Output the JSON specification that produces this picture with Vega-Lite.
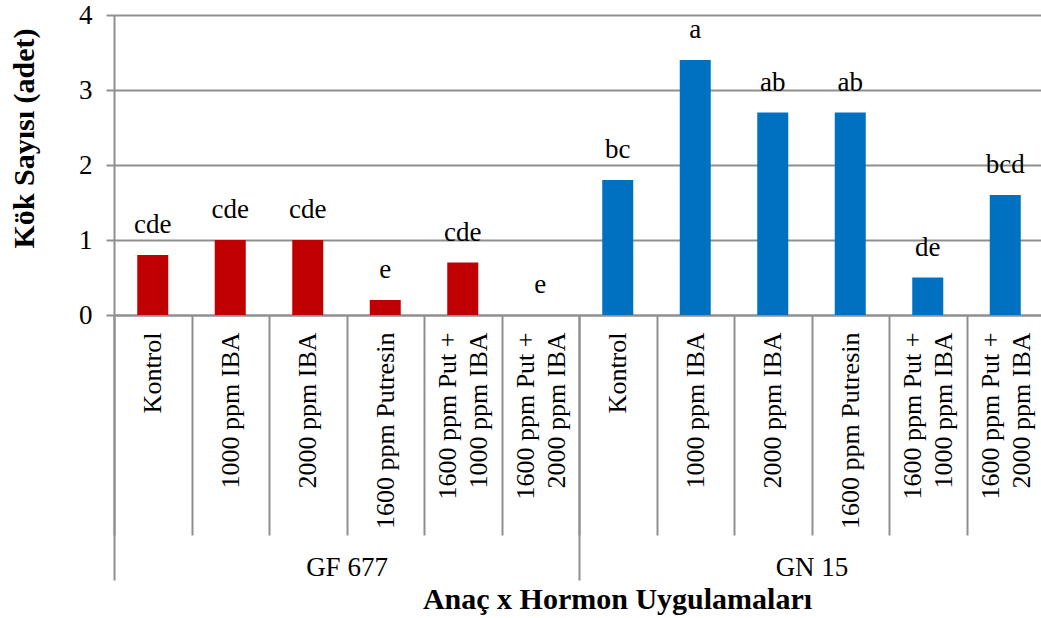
{
  "$schema": "https://vega.github.io/schema/vega-lite/v6.json",
  "autosize": "none",
  "padding": {"left": 114, "top": 15, "right": 0, "bottom": 303},
  "width": 930,
  "height": 300,
  "config": {"view": {"stroke": null}, "font": "Liberation Serif"},
  "resolve": {"scale": {"x": "independent"}, "axis": {"x": "independent"}},
  "layer": [
    {
      "data": {"values": [
        {"anac": "GF 677", "hormon": "Kontrol", "key": "GF 677|Kontrol", "value": 0.8, "harf": "cde"},
        {"anac": "GF 677", "hormon": "1000 ppm IBA", "key": "GF 677|1000 ppm IBA", "value": 1.0, "harf": "cde"},
        {"anac": "GF 677", "hormon": "2000 ppm IBA", "key": "GF 677|2000 ppm IBA", "value": 1.0, "harf": "cde"},
        {"anac": "GF 677", "hormon": "1600 ppm Putresin", "key": "GF 677|1600 ppm Putresin", "value": 0.2, "harf": "e"},
        {"anac": "GF 677", "hormon": "1600 ppm Put + 1000 ppm IBA", "key": "GF 677|1600 ppm Put + 1000 ppm IBA", "value": 0.7, "harf": "cde"},
        {"anac": "GF 677", "hormon": "1600 ppm Put + 2000 ppm IBA", "key": "GF 677|1600 ppm Put + 2000 ppm IBA", "value": 0.0, "harf": "e"},
        {"anac": "GN 15", "hormon": "Kontrol", "key": "GN 15|Kontrol", "value": 1.8, "harf": "bc"},
        {"anac": "GN 15", "hormon": "1000 ppm IBA", "key": "GN 15|1000 ppm IBA", "value": 3.4, "harf": "a"},
        {"anac": "GN 15", "hormon": "2000 ppm IBA", "key": "GN 15|2000 ppm IBA", "value": 2.7, "harf": "ab"},
        {"anac": "GN 15", "hormon": "1600 ppm Putresin", "key": "GN 15|1600 ppm Putresin", "value": 2.7, "harf": "ab"},
        {"anac": "GN 15", "hormon": "1600 ppm Put + 1000 ppm IBA", "key": "GN 15|1600 ppm Put + 1000 ppm IBA", "value": 0.5, "harf": "de"},
        {"anac": "GN 15", "hormon": "1600 ppm Put + 2000 ppm IBA", "key": "GN 15|1600 ppm Put + 2000 ppm IBA", "value": 1.6, "harf": "bcd"}
      ]},
      "encoding": {
        "x": {
          "field": "key", "type": "nominal", "sort": null,
          "scale": {"paddingInner": 0, "paddingOuter": 0},
          "axis": {
            "title": null, "orient": "bottom", "grid": false,
            "tickBand": "extent", "tickSize": 220, "tickColor": "#8f8f8f", "tickWidth": 2,
            "domainColor": "#8f8f8f", "domainWidth": 2,
            "labelAngle": -90, "labelAlign": "right", "labelBaseline": "middle",
            "labelPadding": -203, "labelFont": "Liberation Serif", "labelFontSize": 26,
            "labelLineHeight": 31, "labelColor": "#000000", "labelLimit": 0, "labelOverlap": false,
            "labelOffset": {"condition": {"test": "isValid(datum.value) && indexof(datum.value, '+') >= 0", "value": -15}, "value": 0},
            "labelExpr": "isValid(datum.value) ? split(replace(split(datum.value, '|')[1], '+ ', '+|'), '|') : ''"
          }
        },
        "y": {
          "field": "value", "type": "quantitative",
          "scale": {"domain": [0, 4], "nice": false},
          "axis": {
            "title": "Kök Sayısı (adet)", "values": [0, 1, 2, 3, 4],
            "grid": true, "gridColor": "#8f8f8f", "gridWidth": 2,
            "domainColor": "#8f8f8f", "domainWidth": 2,
            "tickColor": "#8f8f8f", "tickWidth": 2, "tickSize": 8,
            "labelFont": "Liberation Serif", "labelFontSize": 27, "labelColor": "#000000", "labelPadding": 14,
            "titleFont": "Liberation Serif", "titleFontSize": 30, "titleFontWeight": "bold", "titleColor": "#000000",
            "titleX": -90, "titleY": 123, "titleBaseline": "middle", "titleAlign": "center"
          }
        }
      },
      "layer": [
        {
          "mark": {"type": "bar", "width": {"band": 0.4}},
          "encoding": {
            "color": {"field": "anac", "type": "nominal", "scale": {"domain": ["GF 677", "GN 15"], "range": ["#C00000", "#0070C0"]}, "legend": null}
          }
        },
        {
          "mark": {"type": "text", "dy": -30, "baseline": "middle", "font": "Liberation Serif", "fontSize": 27, "color": "#000000"},
          "encoding": {"text": {"field": "harf", "type": "nominal"}}
        }
      ]
    },
    {
      "data": {"values": [{"anac": "GF 677"}, {"anac": "GN 15"}]},
      "mark": {"type": "point", "opacity": 0},
      "encoding": {
        "x": {
          "field": "anac", "type": "nominal", "sort": null,
          "scale": {"paddingInner": 0, "paddingOuter": 0},
          "axis": {
            "title": "Anaç x Hormon Uygulamaları", "orient": "bottom", "domain": false, "grid": false,
            "tickBand": "extent", "tickSize": 265, "tickColor": "#8f8f8f", "tickWidth": 2,
            "labelAngle": 0, "labelAlign": "center", "labelBaseline": "alphabetic", "labelPadding": -5,
            "labelFont": "Liberation Serif", "labelFontSize": 27, "labelColor": "#000000",
            "labelExpr": "isValid(datum.value) ? datum.value : ''",
            "titleFont": "Liberation Serif", "titleFontSize": 30, "titleFontWeight": "bold", "titleColor": "#000000",
            "titleX": 503, "titleY": 293, "titleBaseline": "alphabetic", "titleAlign": "center"
          }
        }
      }
    }
  ]
}
